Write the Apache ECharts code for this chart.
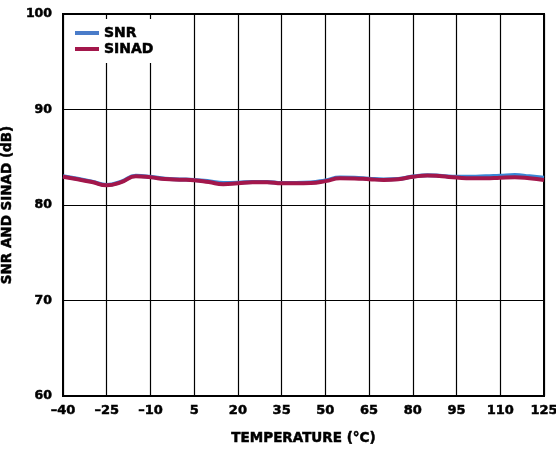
<!DOCTYPE html>
<html>
<head>
<meta charset="utf-8">
<script src="https://cdn.jsdelivr.net/npm/echarts@6/dist/echarts.min.js"></script>
<style>
html,body{margin:0;padding:0;background:#fff;}
#chart{width:556px;height:449px;}
</style>
</head>
<body>
<div id="chart"></div>
<script>
// Temperature (°C), sampled every 5 °C
const temperatures = [-40,-35,-30,-25,-20,-15,-10,-5,0,5,10,15,20,25,30,35,40,45,50,55,60,65,70,75,80,85,90,95,100,105,110,115,120,125];
// SNR (dB)
const snrValues = [83.0,82.75,82.45,82.1,82.45,83.05,82.95,82.75,82.68,82.63,82.5,82.3,82.33,82.42,82.42,82.3,82.3,82.35,82.58,82.88,82.85,82.75,82.68,82.73,82.98,83.12,83.05,82.95,82.95,83.0,83.07,83.13,83.0,82.86];
// SINAD (dB)
const sinadValues = [82.96,82.7,82.4,82.06,82.4,83.0,82.9,82.72,82.65,82.6,82.4,82.17,82.27,82.38,82.38,82.27,82.27,82.3,82.5,82.8,82.78,82.7,82.62,82.7,82.95,83.1,83.0,82.88,82.8,82.8,82.86,82.9,82.8,82.62];
const yTicks = {min: 60, max: 100, interval: 10};
const seriesNames = ['SNR', 'SINAD'];
const xTitle = 'TEMPERATURE (°C)';
const yTitle = 'SNR AND SINAD (dB)';

const FONT = 'DejaVu Sans';
const heavy = {fontFamily: FONT, fontWeight: 'bold', color: '#000', textBorderColor: '#000', textBorderWidth: 0.5};
const chart = echarts.init(document.getElementById('chart'), null, {renderer: 'canvas'});
chart.setOption({
  animation: false,
  backgroundColor: '#fff',
  grid: {left: 63, right: 12, top: 14, bottom: 53, containLabel: false, outerBoundsMode: 'none',
         show: true, borderColor: '#000', borderWidth: 2, backgroundColor: 'transparent'},
  legend: {
    orient: 'vertical', left: 70, top: 19,
    padding: [6, 8, 6, 5],
    backgroundColor: '#fff',
    itemWidth: 24, itemHeight: 4, itemGap: 0,
    icon: 'rect',
    textStyle: Object.assign({}, heavy, {fontSize: 14, lineHeight: 16}),
    data: seriesNames
  },
  xAxis: {
    type: 'category',
    data: temperatures,
    boundaryGap: false,
    name: xTitle,
    nameLocation: 'middle',
    nameGap: 35,
    nameTextStyle: Object.assign({}, heavy, {fontSize: 13.5}),
    axisLine: {lineStyle: {color: '#000', width: 2}},
    axisTick: {show: false},
    axisLabel: Object.assign({}, heavy, {
      interval: 2, margin: 8, fontSize: 13,
      formatter: v => String(v).replace('-', '\u2013')
    }),
    splitLine: {show: true, interval: 2, lineStyle: {color: '#000', width: 1.2}}
  },
  yAxis: {
    type: 'value',
    min: yTicks.min, max: yTicks.max, interval: yTicks.interval,
    name: yTitle,
    nameLocation: 'middle',
    nameGap: 40,
    nameTextStyle: Object.assign({}, heavy, {fontSize: 13.5}),
    axisLine: {show: true, lineStyle: {color: '#000', width: 2}},
    axisTick: {show: false},
    axisLabel: Object.assign({}, heavy, {margin: 11, fontSize: 12.5}),
    splitLine: {show: true, lineStyle: {color: '#000', width: 1.2}}
  },
  series: [
    {name: seriesNames[0], type: 'line', data: snrValues, smooth: 0.5, showSymbol: false, symbol: 'none',
     lineStyle: {color: '#3a86d6', width: 4}, itemStyle: {color: '#4a7cc9'}, z: 3},
    {name: seriesNames[1], type: 'line', data: sinadValues, smooth: 0.5, showSymbol: false, symbol: 'none',
     lineStyle: {color: '#a3174b', width: 4}, itemStyle: {color: '#a3174b'}, z: 4}
  ]
});
</script>
</body>
</html>
